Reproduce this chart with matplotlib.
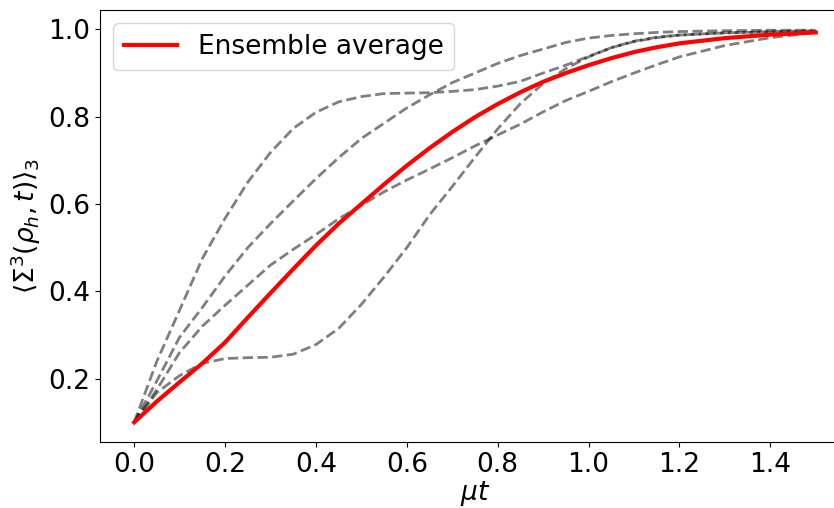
''' ========================================================
Aim: Ensemble average of Sigma^3 over mu*t
---------------------------------------------------------'''

# importing libraries
import numpy as np
import matplotlib
matplotlib.use("Agg")
import matplotlib.pyplot as plt

# data
mu_t = [0.0, 0.05, 0.1, 0.15, 0.2, 0.25, 0.3, 0.35, 0.4, 0.45, 0.5,
        0.55, 0.6, 0.65, 0.7, 0.75, 0.8, 0.85, 0.9, 0.95, 1.0,
        1.05, 1.1, 1.15, 1.2, 1.3, 1.4, 1.5]

run_a = [0.10, 0.24, 0.357, 0.475, 0.567, 0.65, 0.718, 0.773, 0.81, 0.834, 0.846,
         0.853, 0.854, 0.855, 0.858, 0.862, 0.87, 0.881, 0.9, 0.918, 0.938,
         0.958, 0.973, 0.982, 0.987, 0.992, 0.994, 0.995]
run_b = [0.10, 0.195, 0.295, 0.363, 0.435, 0.5, 0.555, 0.607, 0.658, 0.706, 0.75,
         0.785, 0.82, 0.85, 0.878, 0.9, 0.922, 0.94, 0.955, 0.97, 0.98,
         0.986, 0.99, 0.993, 0.995, 0.997, 0.998, 0.998]
run_c = [0.10, 0.175, 0.26, 0.32, 0.368, 0.414, 0.46, 0.496, 0.53, 0.566, 0.597,
         0.628, 0.655, 0.68, 0.706, 0.733, 0.758, 0.783, 0.811, 0.837, 0.858,
         0.88, 0.9, 0.919, 0.937, 0.963, 0.981, 0.993]
run_d = [0.10, 0.168, 0.207, 0.235, 0.246, 0.248, 0.249, 0.256, 0.278, 0.315, 0.37,
         0.433, 0.5, 0.575, 0.64, 0.707, 0.772, 0.83, 0.876, 0.91, 0.937,
         0.958, 0.972, 0.981, 0.987, 0.992, 0.995, 0.997]
ensemble = [0.10, 0.148, 0.192, 0.235, 0.283, 0.34, 0.396, 0.451, 0.505, 0.555, 0.6,
            0.645, 0.688, 0.728, 0.765, 0.799, 0.829, 0.856, 0.88, 0.9, 0.918,
            0.934, 0.948, 0.959, 0.968, 0.98, 0.988, 0.993]

runs = [run_a, run_b, run_c, run_d]

# plotting
plt.rcParams['font.size'] = 19
fig = plt.figure(figsize=(8.34, 5.08), dpi=100)
ax = fig.add_axes([0.12, 0.13, 0.899, 0.85])  # right edge runs past the figure, as in the reference

for run in runs:
    ax.plot(mu_t, run, 'k--', alpha=0.5, lw=2)
ax.plot(mu_t, ensemble, color='red', lw=3, label='Ensemble average')

ax.set_xlabel(r'$\mu t$', labelpad=1)
ax.set_ylabel(r'$\langle \Sigma^3(\rho_h, t)\rangle_3$')
ax.set_xlim(-0.075, 1.575)
ax.set_ylim(0.055, 1.044)
ax.set_xticks(np.arange(0, 1.41, 0.2))
ax.set_yticks([0.2, 0.4, 0.6, 0.8, 1.0])
ax.legend(loc='upper left', fontsize=19)

fig.savefig('out.png', dpi=100)
